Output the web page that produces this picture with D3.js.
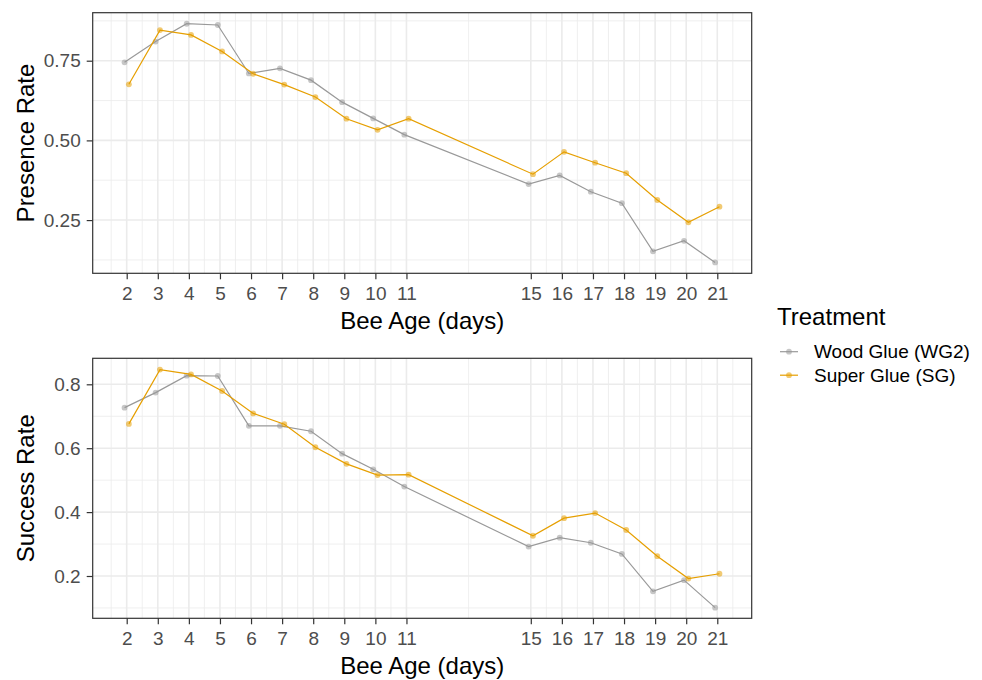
<!DOCTYPE html>
<html>
<head>
<meta charset="utf-8">
<script src="https://cdn.jsdelivr.net/npm/d3@7"></script>
<style>
body{margin:0;background:#fff;}
text{font-family:"Liberation Sans",Arial,sans-serif;}
.title{fill:#000;font-size:24px;}
</style>
</head>
<body>
<div id="chart"></div>
<script>
//data
var days = [2,3,4,5,6,7,8,9,10,11,15,16,17,18,19,20,21];
var xBreaks = [2,3,4,5,6,7,8,9,10,11,15,16,17,18,19,20,21];
var treatments = ['Wood Glue (WG2)','Super Glue (SG)'];
var presenceWG = [0.745,0.810,0.866,0.862,0.710,0.726,0.689,0.620,0.569,0.518,0.363,0.390,0.339,0.303,0.152,0.185,0.117];
var presenceSG = [0.676,0.846,0.831,0.779,0.709,0.675,0.636,0.568,0.533,0.568,0.394,0.464,0.430,0.397,0.313,0.243,0.292];
var successWG = [0.727,0.774,0.827,0.826,0.670,0.670,0.653,0.583,0.534,0.480,0.292,0.320,0.304,0.269,0.152,0.187,0.101];
var successSG = [0.676,0.846,0.831,0.779,0.709,0.675,0.603,0.551,0.516,0.517,0.326,0.381,0.397,0.344,0.262,0.192,0.207];
var presenceTicks = [0.25,0.50,0.75];
var successTicks = [0.2,0.4,0.6,0.8];

var W = 982, H = 680;
var colors = {'Wood Glue (WG2)':'#999999','Super Glue (SG)':'#E69F00'};
var DODGE = 0.07;

var svg = d3.select('#chart').append('svg')
	.attr('width',W).attr('height',H);
svg.append('rect').attr('width',W).attr('height',H).attr('fill','#fff');

var scaleX = d3.scaleLinear().domain([0.906,22.107]).range([92.7,751.7]);

//minor breaks: midpoints of the majors plus one beyond each end
var xMinor = [1.5];
for(var i=0;i<xBreaks.length-1;i++){ xMinor.push((xBreaks[i]+xBreaks[i+1])/2); }
xMinor.push(21.5);

function drawPanel(opt){
	var scaleY = d3.scaleLinear().domain(opt.yDomain).range([opt.bottom,opt.top]);
	var g = svg.append('g');
	var x0 = scaleX.range()[0], x1 = scaleX.range()[1];

	//grid
	g.selectAll('.minor-y').data(opt.yMinor).enter().append('line')
		.attr('x1',x0).attr('x2',x1)
		.attr('y1',function(d){return scaleY(d)}).attr('y2',function(d){return scaleY(d)})
		.attr('stroke','#ebebeb').attr('stroke-width',0.8);
	g.selectAll('.minor-x').data(xMinor).enter().append('line')
		.attr('y1',opt.top).attr('y2',opt.bottom)
		.attr('x1',function(d){return scaleX(d)}).attr('x2',function(d){return scaleX(d)})
		.attr('stroke','#ebebeb').attr('stroke-width',0.8);
	g.selectAll('.major-y').data(opt.yTicks).enter().append('line')
		.attr('x1',x0).attr('x2',x1)
		.attr('y1',function(d){return scaleY(d)}).attr('y2',function(d){return scaleY(d)})
		.attr('stroke','#ebebeb').attr('stroke-width',1.6);
	g.selectAll('.major-x').data(xBreaks).enter().append('line')
		.attr('y1',opt.top).attr('y2',opt.bottom)
		.attr('x1',function(d){return scaleX(d)}).attr('x2',function(d){return scaleX(d)})
		.attr('stroke','#ebebeb').attr('stroke-width',1.6);

	//series
	var line = d3.line()
		.x(function(d){return scaleX(d.x)})
		.y(function(d){return scaleY(d.y)});
	opt.series.forEach(function(s,k){
		var off = k===0 ? -DODGE : DODGE;
		var pts = days.map(function(d,i){return {x:d+off,y:s.values[i]}});
		g.append('path').datum(pts)
			.attr('d',line)
			.attr('fill','none')
			.attr('stroke',colors[s.name])
			.attr('stroke-width',1.2);
		g.selectAll('.pt'+k).data(pts).enter().append('circle')
			.attr('cx',function(d){return scaleX(d.x)})
			.attr('cy',function(d){return scaleY(d.y)})
			.attr('r',2.9)
			.attr('fill',colors[s.name])
			.attr('fill-opacity',0.55);
	});

	//border
	g.append('rect').attr('x',x0).attr('y',opt.top)
		.attr('width',x1-x0).attr('height',opt.bottom-opt.top)
		.attr('fill','none').attr('stroke','#333').attr('stroke-width',1.2);

	//axes
	var xAxis = d3.axisBottom(scaleX).tickValues(xBreaks).tickSize(6).tickPadding(7);
	var ax = g.append('g').attr('transform','translate(0,'+opt.bottom+')').call(xAxis);
	var yAxis = d3.axisLeft(scaleY).tickValues(opt.yTicks).tickSize(6).tickPadding(6)
		.tickFormat(opt.fmt);
	var ay = g.append('g').attr('transform','translate('+x0+',0)').call(yAxis);
	[ax,ay].forEach(function(a){
		a.select('.domain').remove();
		a.selectAll('.tick line').attr('stroke','#333').attr('stroke-width',1.2);
		a.selectAll('.tick text').attr('fill','#4d4d4d')
			.style('font-size','19px').style('font-family','"Liberation Sans",Arial,sans-serif');
	});

	//titles
	g.append('text').attr('class','title')
		.attr('text-anchor','middle')
		.attr('x',(x0+x1)/2).attr('y',opt.bottom+56)
		.text('Bee Age (days)');
	g.append('text').attr('class','title')
		.attr('text-anchor','middle')
		.attr('transform','translate(33.5,'+((opt.top+opt.bottom)/2)+') rotate(-90)')
		.text(opt.yTitle);
}

drawPanel({
	top:12.7, bottom:273.3, yDomain:[0.083,0.9006],
	yTicks:presenceTicks, yMinor:[0.125,0.375,0.625,0.875],
	fmt:d3.format('.2f'), yTitle:'Presence Rate',
	series:[{name:treatments[0],values:presenceWG},{name:treatments[1],values:presenceSG}]
});
drawPanel({
	top:358.3, bottom:618.3, yDomain:[0.0676,0.8814],
	yTicks:successTicks, yMinor:[0.1,0.3,0.5,0.7],
	fmt:d3.format('.1f'), yTitle:'Success Rate',
	series:[{name:treatments[0],values:successWG},{name:treatments[1],values:successSG}]
});

//legend
var legend = svg.append('g').attr('transform','translate(777,0)');
legend.append('text').attr('class','title')
	.attr('x',0).attr('y',324.7)
	.text('Treatment');
var items = legend.selectAll('.item').data(treatments).enter().append('g')
	.attr('transform',function(d,i){return 'translate(0,'+(351.7+i*23.5)+')'});
items.append('line').attr('x1',3).attr('x2',21)
	.attr('stroke',function(d){return colors[d]}).attr('stroke-width',1.2);
items.append('circle').attr('cx',12).attr('r',2.9)
	.attr('fill',function(d){return colors[d]}).attr('fill-opacity',0.55);
items.append('text').attr('x',37).attr('dy','0.35em')
	.style('font-size','19px').attr('fill','#000')
	.text(function(d){return d});
</script>
</body>
</html>
